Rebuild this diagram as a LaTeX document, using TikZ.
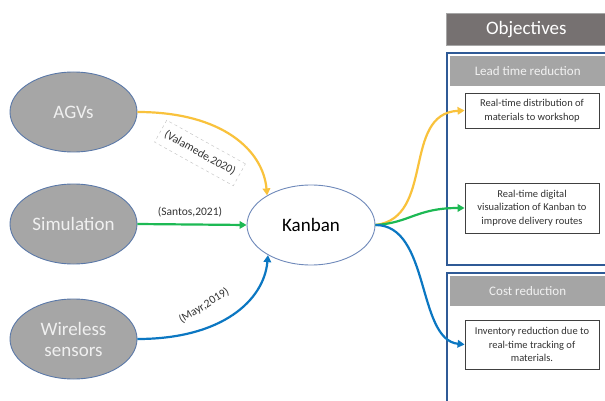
\documentclass[tikz,border=0pt]{standalone}
\usepackage{fontspec}
\setmainfont{Carlito}
\usetikzlibrary{shapes.geometric,arrows.meta}
\definecolor{srcfill}{HTML}{A6A6A6}
\definecolor{srcline}{HTML}{5A78A8}
\definecolor{kline}{HTML}{6F89BA}
\definecolor{cyellow}{HTML}{F9C23C}
\definecolor{cgreen}{HTML}{1DB954}
\definecolor{cblue}{HTML}{0B77C2}
\definecolor{panelblue}{HTML}{2F5A96}
\definecolor{hdrgray}{HTML}{A5A5A5}
\definecolor{objgray}{HTML}{767171}
\definecolor{txtgray}{HTML}{333333}
\tikzset{
  source/.style={ellipse, draw=srcline, line width=0.9pt, fill=srcfill, minimum width=127pt, minimum height=80pt, inner sep=0pt, align=center, text=white!94!black, font=\fontsize{19}{22}\selectfont},
  hub/.style={ellipse, draw=kline, line width=0.9pt, fill=white, minimum width=128pt, minimum height=80pt, inner sep=0pt, font=\fontsize{19}{22}\selectfont},
  goal/.style={draw=black!75, line width=0.8pt, fill=white, minimum width=134pt, align=center, text=txtgray, font=\fontsize{10.5}{13.5}\selectfont, inner sep=0pt},
  panel/.style={draw=panelblue, line width=2.2pt},
  header/.style={fill=hdrgray, text=white!95!black, font=\fontsize{13}{15}\selectfont},
  cite/.style={text=txtgray, font=\fontsize{11.5}{13}\selectfont, inner sep=1pt},
  conn/.style={line width=2.2pt, -{Triangle[length=7pt,width=7.5pt]}},
}
\begin{document}
\begin{tikzpicture}[x=1pt,y=-1pt]
\clip (0,0) rectangle (605,401);
\fill[white] (0,0) rectangle (605,401);

% objectives column
\node[fill=objgray, draw=black!35, line width=0.6pt, minimum width=160pt, minimum height=32pt, anchor=north west, text=white, font=\fontsize{19}{21}\selectfont] (obj) at (446,13) {Objectives};

\draw[panel] (447,53) rectangle (620,265);
\node[header, anchor=north west, minimum width=160pt, minimum height=30pt] (lead) at (449.5,56) {\hspace*{-4pt}Lead time reduction};
\draw[panel] (447,273) rectangle (620,420);
\node[header, anchor=north west, minimum width=160pt, minimum height=30pt] (cost) at (449.5,276) {\hspace*{-4pt}Cost reduction};

\node[goal, minimum height=35pt] (g1) at (532,110.5) {Real-time distribution of\\materials to workshop};
\node[goal, minimum height=50pt] (g2) at (532,208) {Real-time digital\\visualization of Kanban to\\improve delivery routes};
\node[goal, minimum height=49pt] (g3) at (532,344.5) {Inventory reduction due to\\real-time tracking of\\materials.};

% sources
\node[source] (agv) at (73.5,112) {AGVs};
\node[source] (sim) at (73.5,224) {Simulation};
\node[source] (wir) at (73.5,339) {Wireless\\[-1pt]sensors};
\node[hub] (kan) at (311,225) {Kanban};

% labels
\node[cite, draw=black!25, dashed, fill=white, rotate=-29, minimum width=90pt, minimum height=25pt] (lv) at (200,153) {(Valamede,2020)};
\node[cite] (ls) at (190,212) {(Santos,2021)};
\node[cite, rotate=32] (lm) at (204,306) {(Mayr,2019)};

% incoming connectors
\draw[conn, cyellow] (agv.east) .. controls +(85,0) and +(-4,-45) .. (kan.146);
\draw[conn, cgreen] (sim.east) -- (kan.west);
\draw[conn, cblue] (wir.east) .. controls +(85,0) and +(-4,45) .. (kan.215);

% outgoing connectors
\draw[conn, cyellow] (kan.east) .. controls +(60,-7) and +(-63,3) .. (g1.west);
\draw[conn, cgreen] (kan.east) .. controls +(34,-2) and +(-48,0) .. (g2.west);
\draw[conn, cblue] (kan.east) .. controls +(55,0) and +(-48,-5) .. (g3.west);
\end{tikzpicture}
\end{document}
